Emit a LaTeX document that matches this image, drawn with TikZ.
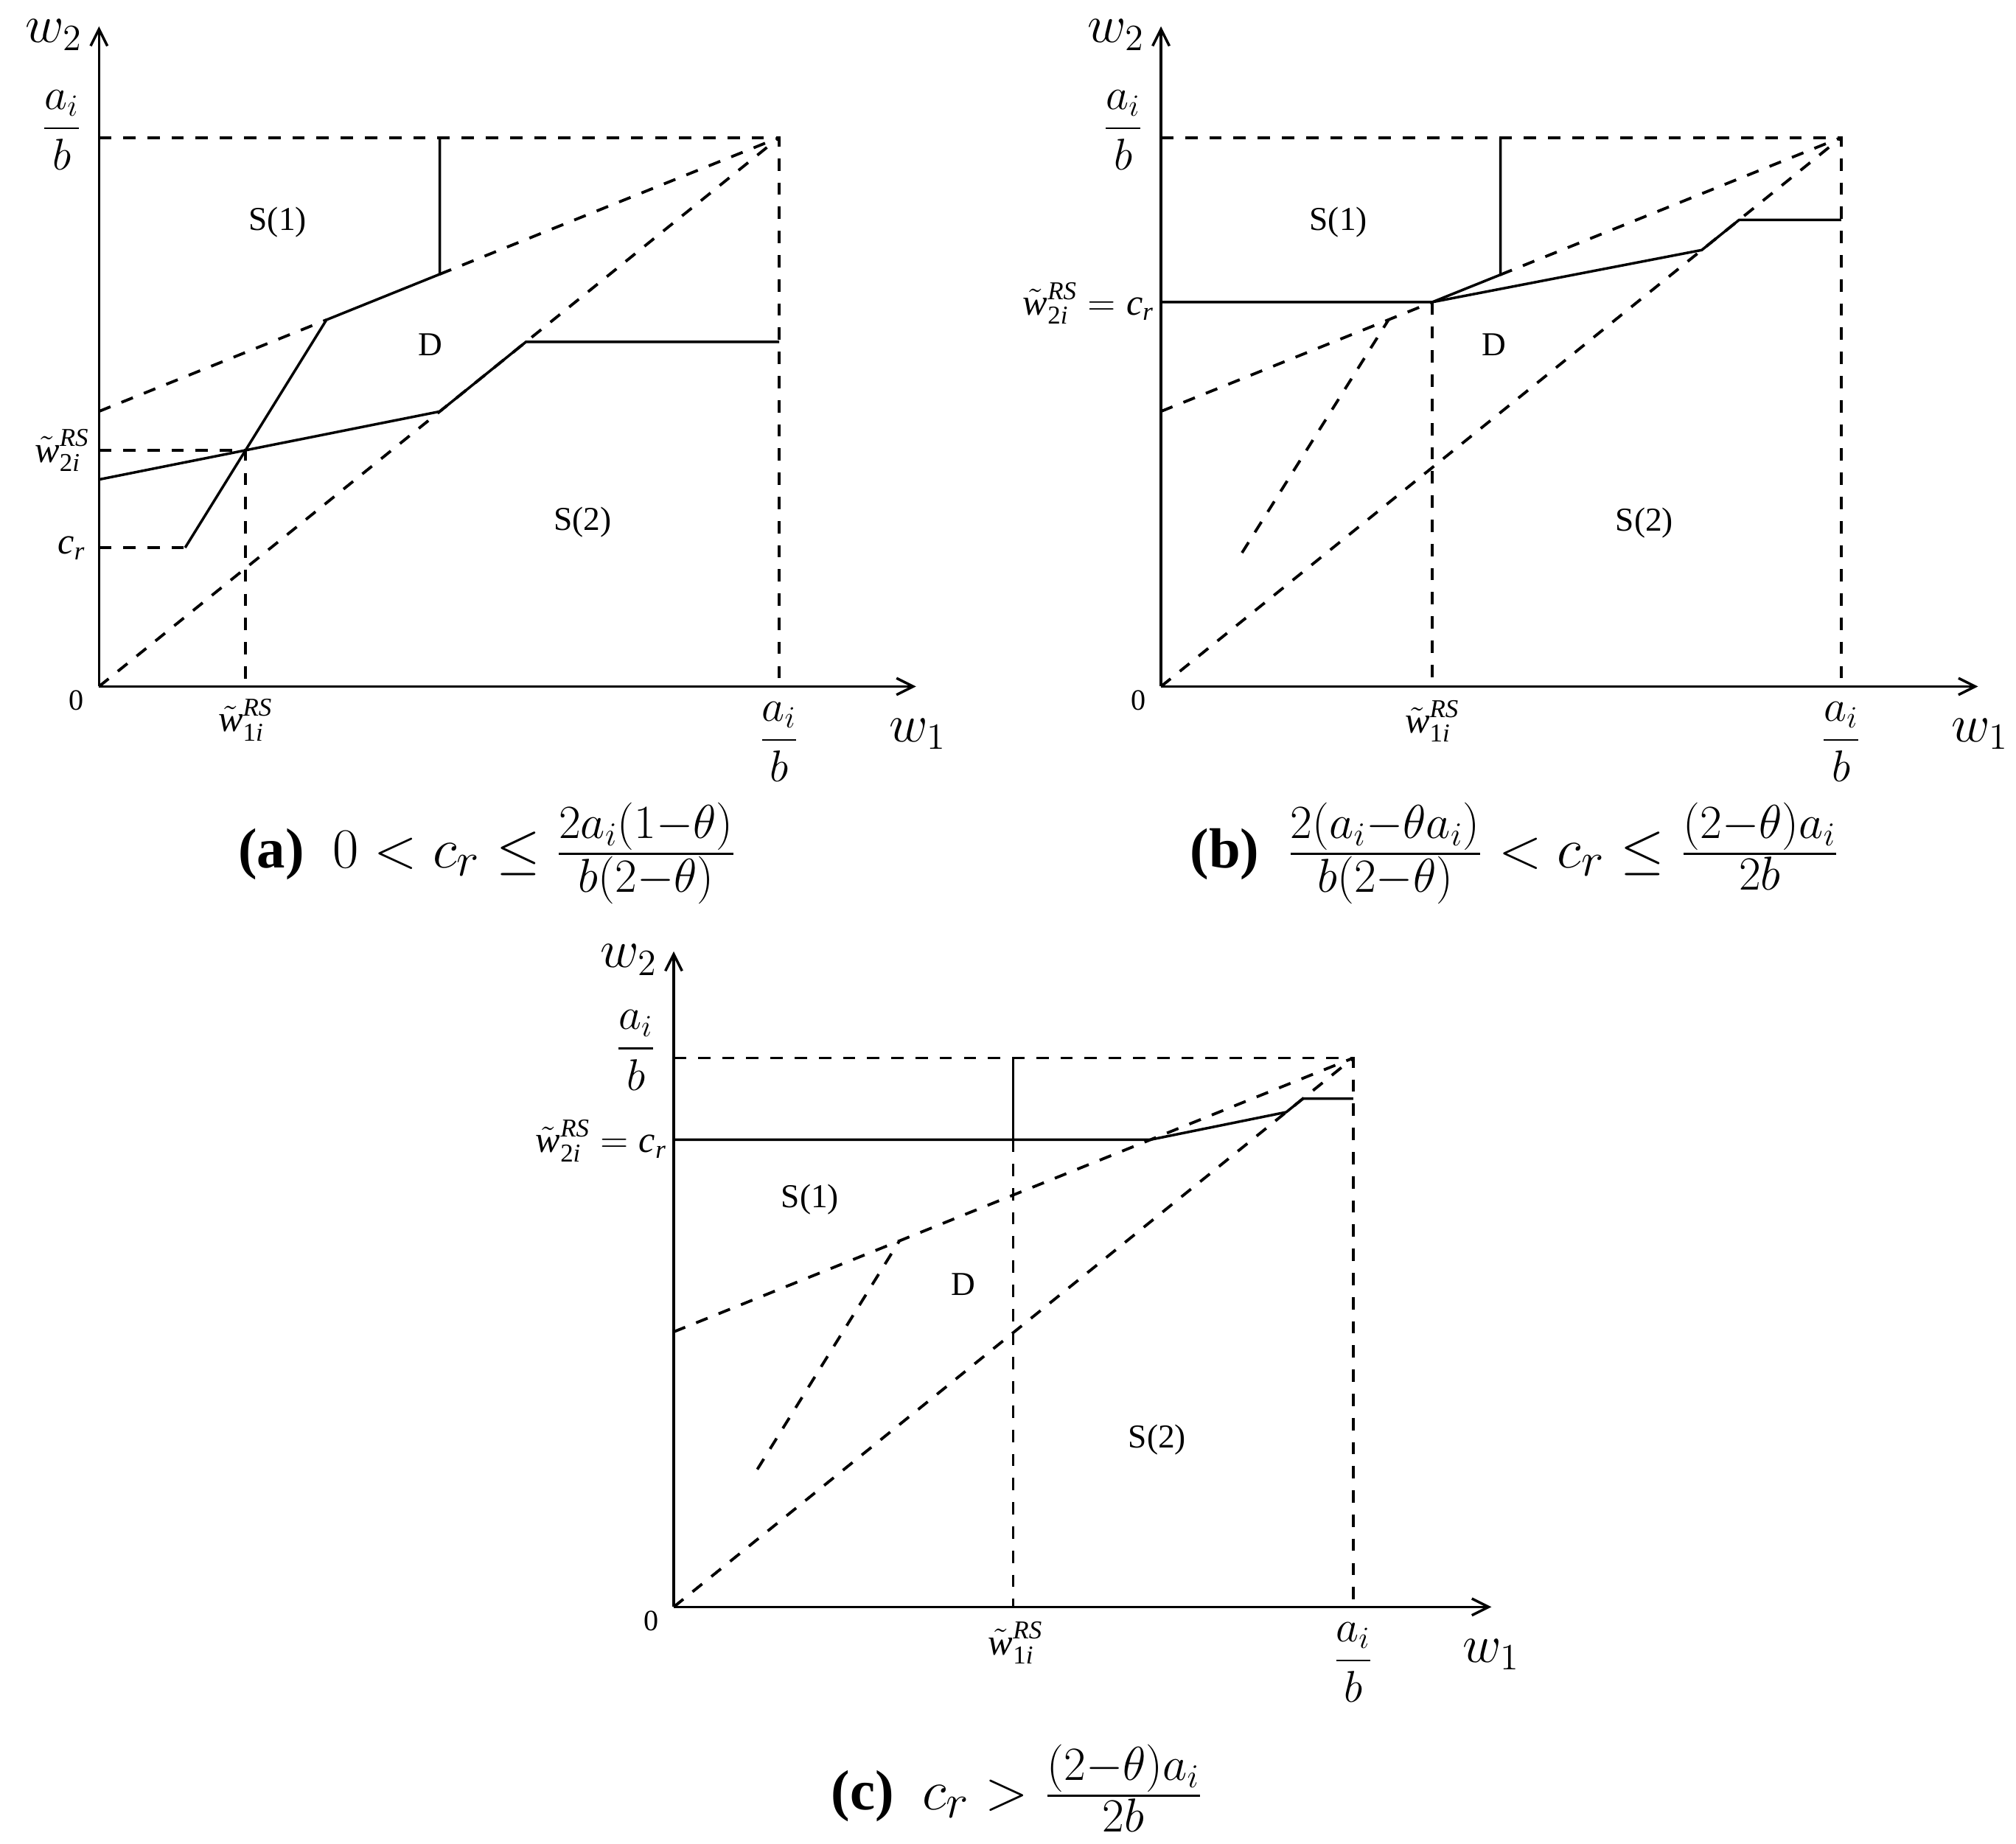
\RequirePackage{fix-cm}
\documentclass[tikz,border=0pt]{standalone}
\usepackage{amsmath}
\usepackage{graphicx}
\usepackage{fontspec}
\setmainfont{Liberation Serif}
\usetikzlibrary{arrows.meta}
\DeclareMathSizes{22}{22}{18.5}{13}
\newcommand{\wt}[1]{\tilde{\textit{w}}^{\textit{RS}}_{\textrm{#1}\textit{i}}}
\begin{document}
\begin{tikzpicture}[x=0.5pt,y=-0.5pt,
  axis/.style={line width=1pt,-{Straight Barb[length=6.5pt,width=6.5pt]}},
  sol/.style={line width=1pt},
  dsh/.style={line width=1.1pt,dash pattern=on 4.8pt off 4.6pt},
  reg/.style={inner sep=0pt,font=\fontsize{13}{15}\selectfont},
  axlab/.style={inner sep=0pt,font=\fontsize{20.74}{24}\selectfont},
  fraclab/.style={inner sep=0pt,font=\fontsize{17.28}{20}\selectfont},
  itlab/.style={inner sep=0pt,font=\fontsize{14.4}{17}\selectfont},
  zlab/.style={inner sep=0pt,font=\fontsize{11.5}{14}\selectfont},
  captxt/.style={inner sep=0pt,font=\fontsize{22}{26}\selectfont}]
\useasboundingbox (0,0) rectangle (1568,1434);

% ================= panel (a) =================
\coordinate (Oa) at (77,534);
\coordinate (AYa) at (77,20.5);
\coordinate (AXa) at (712.5,534);
\coordinate (Ta) at (77,107);
\coordinate (Ca) at (606,107);
\coordinate (Ba) at (606,534);
\coordinate (Ua) at (77,320);
\coordinate (Pa) at (253.9,248.8);
\coordinate (Qa) at (342,213.3);
\coordinate (Va) at (342,107);
\coordinate (La) at (77,373);
\coordinate (Xa) at (191,350.2);
\coordinate (Da) at (342,320.1);
\coordinate (Ea) at (409,266);
\coordinate (Fa) at (606,266);
\coordinate (Ka) at (144,426);
\coordinate (Ga) at (77,426);
\coordinate (Ha) at (77,350.2);
\coordinate (XBa) at (191,534);

\draw[axis] (Oa) -- (AYa);
\draw[axis] (Oa) -- (AXa);
\draw[dsh] (Ta) -- (Ca) -- (Ba);
\draw[dsh] (Oa) -- (Ca);
\draw[dsh] (Ua) -- (Pa);
\draw[dsh] (Qa) -- (Ca);
\draw[dsh] (Ga) -- (Ka);
\draw[dsh] (Ha) -- (Xa) -- (XBa);
\draw[sol] (Va) -- (Qa) -- (Pa) -- (Ka);
\draw[sol] (La) -- (Da) -- (Ea) -- (Fa);

\node[axlab] (w2a) at (42,27) {$w_2$};
\node[fraclab] (fya) at (48,101) {$\dfrac{a_i}{b}$};
\node[reg] (s1a) at (216,173) {S(1)};
\node[reg] (da) at (335,268) {D};
\node[reg] (s2a) at (453,406) {S(2)};
\node[itlab,anchor=base east] (w2ia) at (70,359.5) {$\wt{2}$};
\node[itlab,anchor=base east] (cra) at (67,431) {$\textit{c}_{\textit{r}}$};
\node[zlab] (za) at (59.5,545) {0};
\node[itlab] (w1ia) at (191,560) {$\wt{1}$};
\node[fraclab] (fxa) at (606,577) {$\dfrac{a_i}{b}$};
\node[axlab] (w1a) at (714,571) {$w_1$};
\node[captxt] (capa) at (379,664) {\textbf{(a)}\ \ $0<c_r\le\frac{2a_i(1-\theta)}{b(2-\theta)}$};

% ================= panel (b) =================
\coordinate (Ob) at (903,534);
\coordinate (AYb) at (903,20.5);
\coordinate (AXb) at (1538.5,534);
\coordinate (Tb) at (903,107);
\coordinate (Cb) at (1432,107);
\coordinate (Bb) at (1432,534);
\coordinate (Ub) at (903,320);
\coordinate (Kb) at (1114,235);
\coordinate (Hb) at (903,235);
\coordinate (Qb) at (1167,213.7);
\coordinate (Vb) at (1167,107);
\coordinate (Db) at (1323.6,194.5);
\coordinate (Eb) at (1352.7,171);
\coordinate (Fb) at (1432,171);
\coordinate (XBb) at (1114,534);
\coordinate (Sb1) at (966,430);
\coordinate (Sb2) at (1080,248.7);

\draw[axis] (Ob) -- (AYb);
\draw[axis] (Ob) -- (AXb);
\draw[dsh] (Tb) -- (Cb) -- (Bb);
\draw[dsh] (Ob) -- (Cb);
\draw[dsh] (Ub) -- (Kb);
\draw[dsh] (Qb) -- (Cb);
\draw[dsh] (Kb) -- (XBb);
\draw[dsh] (Sb1) -- (Sb2);
\draw[sol] (Hb) -- (Kb) -- (Qb) -- (Vb);
\draw[sol] (Kb) -- (Db) -- (Eb) -- (Fb);

\node[axlab] (w2b) at (868,27) {$w_2$};
\node[fraclab] (fyb) at (873.5,101) {$\dfrac{a_i}{b}$};
\node[reg] (s1b) at (1041,173) {S(1)};
\node[reg] (db) at (1162,268) {D};
\node[reg] (s2b) at (1279,407) {S(2)};
\node[itlab,anchor=base east] (w2ib) at (898,245) {$\wt{2}=\textit{c}_{\textit{r}}$};
\node[zlab] (zb) at (885.5,545) {0};
\node[itlab] (w1ib) at (1114,561) {$\wt{1}$};
\node[fraclab] (fxb) at (1432,577) {$\dfrac{a_i}{b}$};
\node[axlab] (w1b) at (1540,571) {$w_1$};
\node[captxt] (capb) at (1178,664) {\textbf{(b)}\ \ $\frac{2(a_i-\theta a_i)}{b(2-\theta)}<c_r\le\frac{(2-\theta)a_i}{2b}$};

% ================= panel (c) =================
\coordinate (Oc) at (524,1250);
\coordinate (AYc) at (524,740);
\coordinate (AXc) at (1160,1250);
\coordinate (Tc) at (524,823);
\coordinate (Cc) at (1052.5,823);
\coordinate (Bc) at (1052.5,1250);
\coordinate (Uc) at (524,1036);
\coordinate (Hc) at (524,886.5);
\coordinate (Kc) at (895,886.5);
\coordinate (Vc) at (788,823);
\coordinate (Wc) at (788,886.5);
\coordinate (XBc) at (788,1250);
\coordinate (Dc) at (1000.4,865.1);
\coordinate (Ec) at (1013.4,854.6);
\coordinate (Fc) at (1052.5,854.6);
\coordinate (Sc1) at (589,1143);
\coordinate (Sc2) at (699.5,965.3);

\draw[axis] (Oc) -- (AYc);
\draw[axis] (Oc) -- (AXc);
\draw[dsh] (Tc) -- (Cc) -- (Bc);
\draw[dsh] (Oc) -- (Cc);
\draw[dsh] (Uc) -- (Cc);
\draw[dsh] (Wc) -- (XBc);
\draw[dsh] (Sc1) -- (Sc2);
\draw[sol] (Vc) -- (Wc);
\draw[sol] (Hc) -- (Kc) -- (Dc) -- (Ec) -- (Fc);

\node[axlab] (w2c) at (489,746.5) {$w_2$};
\node[fraclab] (fyc) at (494.5,817) {$\dfrac{a_i}{b}$};
\node[reg] (s1c) at (630,933) {S(1)};
\node[reg] (dc) at (749,999) {D};
\node[reg] (s2c) at (900,1120) {S(2)};
\node[itlab,anchor=base east] (w2ic) at (519,896.5) {$\wt{2}=\textit{c}_{\textit{r}}$};
\node[zlab] (zc) at (506.5,1261) {0};
\node[itlab] (w1ic) at (790,1278) {$\wt{1}$};
\node[fraclab] (fxc) at (1052.5,1293) {$\dfrac{a_i}{b}$};
\node[axlab] (w1c) at (1160,1287) {$w_1$};
\node[captxt] (capc) at (791,1391) {\textbf{(c)}\ \ $c_r>\frac{(2-\theta)a_i}{2b}$};
\end{tikzpicture}
\end{document}
